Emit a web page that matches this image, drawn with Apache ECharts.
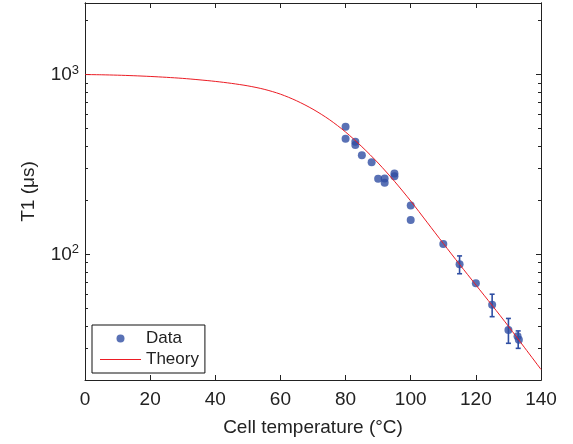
<!DOCTYPE html>
<html>
<head>
<meta charset="utf-8">
<script src="https://cdn.jsdelivr.net/npm/echarts@6/dist/echarts.min.js"></script>
<style>html,body{margin:0;padding:0;background:#fff;}#c{width:573px;height:444px;}</style>
</head>
<body>
<div id="c"></div>
<script>
// Measured data points (temperature °C, T1 µs)
const dataX = [80, 80, 83, 83, 85, 88, 90, 92, 92, 95, 95, 100, 100, 110, 115, 120, 125, 130, 132.8, 133.2];
const dataY = [513, 440, 423, 405, 356, 325, 263, 264, 250, 282, 272, 187, 155, 114, 88, 69, 52.5, 38, 35, 33.5];
// Error bars
const errX = [115, 125, 130, 133];
const errLow = [78, 45, 32, 30];
const errHigh = [98, 60, 44, 37.5];
// Theory curve
const theoryX = [0, 5, 10, 15, 20, 25, 30, 35, 40, 45, 50, 55, 60, 65, 70, 75, 80, 85, 90, 95, 100, 105, 110, 115, 120, 125, 130, 135, 140];
const theoryY = [1000, 997, 992, 985, 976, 965, 952, 935, 916, 893, 865, 828, 778, 714, 641, 562, 479, 397, 322, 255, 198, 151, 115, 87.9, 67.6, 52.0, 39.8, 30.2, 22.9];
// Axis ticks
const xTicks = [0, 20, 40, 60, 80, 100, 120, 140];
const yMajor = [100, 1000];
const yMinor = [20, 30, 40, 50, 60, 70, 80, 90, 200, 300, 400, 500, 600, 700, 800, 900, 2000];

const FONT = 'Liberation Sans, Arial, Helvetica, sans-serif';
const AX = '#222';
const BLUE = '#2f4ea3';
const RED = '#ec1c24';

const chart = echarts.init(document.getElementById('c'), null, {renderer: 'canvas'});

function yAxisDef(position, major, showLabel) {
  return {
    type: 'log', logBase: 10, min: 20, max: 2500, position: position,
    axisLine: {show: true, lineStyle: {color: AX, width: 1}},
    axisTick: {show: true, inside: true, length: major ? 5 : 3, customValues: major ? yMajor : yMinor,
      lineStyle: {color: AX, width: 1}},
    axisLabel: {show: showLabel, customValues: yMajor, margin: 6,
      formatter: function (v) { return '{b|10}{s|' + Math.round(Math.log10(v)) + '}'; },
      rich: {
        b: {fontSize: 19, fontFamily: FONT, color: AX, lineHeight: 22},
        s: {fontSize: 13, fontFamily: FONT, color: AX, verticalAlign: 'top', lineHeight: 12}
      }},
    splitLine: {show: false},
    minorTick: {show: false}
  };
}

const option = {
  backgroundColor: '#fff',
  animation: false,
  grid: {left: 85, right: 32, top: 3, bottom: 64, containLabel: false},
  xAxis: [{
    type: 'value', min: 0, max: 140, interval: 20, position: 'bottom',
    name: 'Cell temperature (°C)', nameLocation: 'middle', nameGap: 38,
    nameTextStyle: {fontSize: 19, fontFamily: FONT, color: AX},
    axisLine: {show: true, lineStyle: {color: AX, width: 1}},
    axisTick: {show: true, inside: true, length: 5, customValues: xTicks, lineStyle: {color: AX}},
    axisLabel: {fontSize: 19, fontFamily: FONT, color: AX, margin: 10, customValues: xTicks},
    splitLine: {show: false}
  }, {
    type: 'value', min: 0, max: 140, interval: 20, position: 'top',
    axisLine: {show: true, lineStyle: {color: AX, width: 1}},
    axisTick: {show: true, inside: true, length: 5, lineStyle: {color: AX}},
    axisLabel: {show: false},
    splitLine: {show: false}
  }],
  yAxis: [
    Object.assign(yAxisDef('left', true, true), {
      name: 'T1 (μs)', nameLocation: 'middle', nameGap: 47, nameRotate: 90,
      nameTextStyle: {fontSize: 19, fontFamily: FONT, color: AX}
    }),
    yAxisDef('left', false, false),
    yAxisDef('right', true, false),
    yAxisDef('right', false, false)
  ],
  legend: {
    show: true, left: 92, top: 325, orient: 'vertical',
    padding: [4, 6, 4, 8], itemGap: 2, itemWidth: 41, itemHeight: 8,
    borderColor: '#111', borderWidth: 1, backgroundColor: '#fff',
    textStyle: {fontSize: 17, fontFamily: FONT, color: AX, lineHeight: 19},
    data: [{name: 'Data', icon: 'circle'}, {name: 'Theory', icon: 'path://M0,0H41V1H0Z'}]
  },
  series: [
    {
      name: 'errors', type: 'custom', xAxisIndex: 0, yAxisIndex: 0, z: 3,
      data: errX.map((x, i) => [x, errLow[i], errHigh[i]]),
      encode: {x: 0, y: [1, 2]},
      renderItem: function (params, api) {
        const x = api.value(0);
        const p1 = api.coord([x, api.value(2)]);
        const p2 = api.coord([x, api.value(1)]);
        const w = 2.5;
        const st = {stroke: BLUE, lineWidth: 1.6};
        return {type: 'group', children: [
          {type: 'line', shape: {x1: p1[0], y1: p1[1], x2: p2[0], y2: p2[1]}, style: st},
          {type: 'line', shape: {x1: p1[0] - w, y1: p1[1], x2: p1[0] + w, y2: p1[1]}, style: st},
          {type: 'line', shape: {x1: p2[0] - w, y1: p2[1], x2: p2[0] + w, y2: p2[1]}, style: st}
        ]};
      }
    },
    {
      name: 'Data', type: 'scatter', xAxisIndex: 0, yAxisIndex: 0, z: 4,
      symbol: 'circle', symbolSize: 8,
      itemStyle: {color: BLUE},
      data: dataX.map((x, i) => [x, dataY[i]])
    },
    {
      name: 'Theory', type: 'line', xAxisIndex: 0, yAxisIndex: 0, z: 5,
      smooth: 0.3, symbol: 'none', showSymbol: false,
      lineStyle: {color: RED, width: 1}, itemStyle: {color: RED},
      data: theoryX.map((x, i) => [x, theoryY[i]])
    }
  ]
};
chart.setOption(option);
</script>
</body>
</html>
